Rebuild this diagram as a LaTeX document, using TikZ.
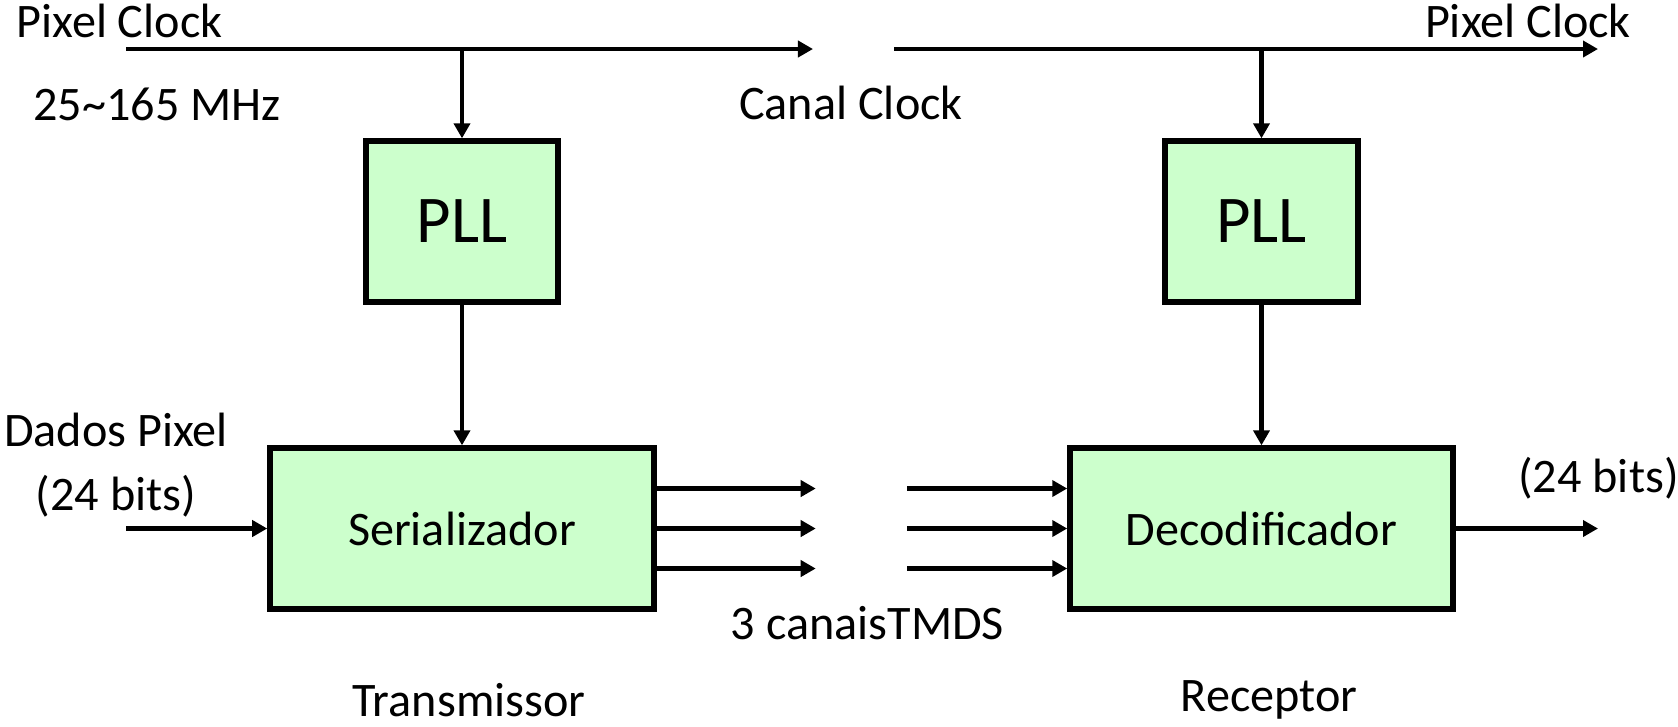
\documentclass[tikz,border=0pt]{standalone}
\usepackage{fontspec}
\setmainfont{Carlito}
\usetikzlibrary{calc,arrows.meta,positioning}
\definecolor{boxgreen}{HTML}{CCFFCC}
\tikzset{
  ar/.style={-{Triangle[length=1.5mm,width=1.6mm]},line width=1.15pt},
  blk/.style={draw,line width=1.5pt,fill=boxgreen,inner sep=0pt,font=\fontsize{13.7}{16}\selectfont},
  lbl/.style={font=\fontsize{13.7}{16}\selectfont,inner sep=0pt}
}

\begin{document}
\begin{tikzpicture}[x=0.01cm,y=-0.01cm]
\useasboundingbox (0,0) rectangle (1678,726);
% blocos
\node[blk,minimum width=1.92cm,minimum height=1.61cm,font=\fontsize{19}{22}\selectfont] (pllt) at (462,221.5) {PLL};
\node[blk,minimum width=3.84cm,minimum height=1.61cm] (ser) at (462,528.5) {Serializador};
\node[blk,minimum width=1.93cm,minimum height=1.61cm,font=\fontsize{19}{22}\selectfont] (pllr) at (1261.5,221.5) {PLL};
\node[blk,minimum width=3.83cm,minimum height=1.61cm] (dec) at (1261.5,528.5) {Decodificador};
% pontas livres
\coordinate (clkin) at (126,49); \coordinate (clkmid) at (813,49);
\coordinate (clkrx) at (894,49); \coordinate (clkout) at (1598,49);
\coordinate (din) at (126,528.5); \coordinate (dout) at (1598,528.5);
% clock
\draw[ar] (clkin) -- (clkmid);
\draw[ar] (pllt.north |- clkin) -- (pllt.north);
\draw[ar] (clkrx) -- (clkout);
\draw[ar] (pllr.north |- clkrx) -- (pllr.north);
\draw[ar] (pllt) -- (ser);
\draw[ar] (pllr) -- (dec);
% dados
\draw[ar] (din) -- (ser);
\draw[ar] (dec) -- (dout);
\foreach \dy in {-40,0,40}{
  \draw[ar] ($(ser.east)+(0,\dy)$) -- +(159,0);
  \draw[ar] ($(dec.west)+(-160,\dy)$) -- ($(dec.west)+(0,\dy)$);
}
% textos
\node[lbl] (tpc) at (119.5,21) {Pixel Clock};
\node[lbl] (tmhz) at (157,104) {25\textasciitilde165 MHz};
\node[lbl] (tcc) at (851,103) {Canal Clock};
\node[lbl] (rpc) at (1528,21) {Pixel Clock};
\node[lbl,align=center] (tdp) at (116,465) {Dados Pixel\\[2pt](24 bits)};
\node[lbl] (rbits) at (1598.5,478) {(24 bits)};
\node[lbl] (tmds) at (867.5,623) {3 canaisTMDS};
\node[lbl] (ttx) at (469,700) {Transmissor};
\node[lbl] (trx) at (1269,700) {Receptor};
\end{tikzpicture}
\end{document}
